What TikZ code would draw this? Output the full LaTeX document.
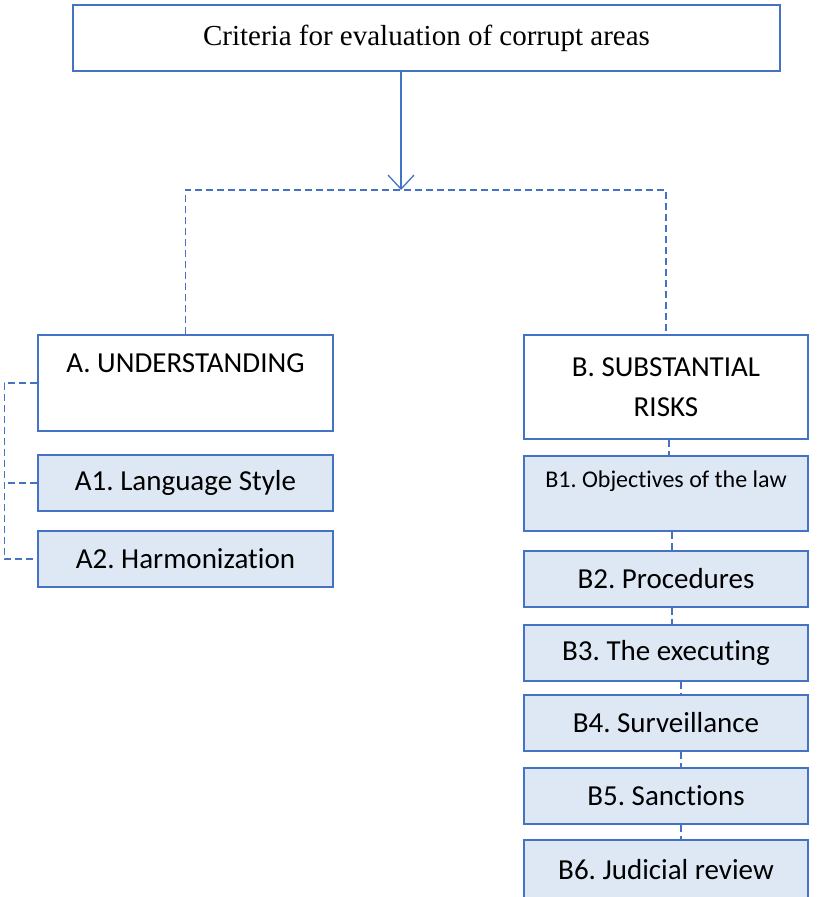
\documentclass[tikz,border=0pt]{standalone}
\usepackage{fontspec}
\setmainfont{Liberation Serif}
\newfontfamily\calibri[Ligatures = NoCommon]{Carlito}
\usepackage{xcolor}
\usepackage{tikz}
\usetikzlibrary{arrows.meta}

\definecolor{lineblue}{HTML}{4472C4}
\definecolor{paleblue}{HTML}{DEE8F5}

\begin{document}
\frenchspacing
\begin{tikzpicture}[x = 1pt, y = -1pt,
    box/.style = {draw = lineblue, line width = 1.3pt, fill = white, inner sep = 0pt,
                  align = center, font = \calibri\fontsize{29}{40}\selectfont},
    subbox/.style = {box, fill = paleblue},
    dashline/.style = {draw = lineblue, line width = 1.4pt, dash pattern = on 7pt off 4pt}]
    \useasboundingbox (0, 0) rectangle (820, 897);
    % top
    \node[box, minimum width = 707pt, minimum height = 66pt,
          font = \fontsize{29}{35}\selectfont] (title) at (426.5, 38)
          {Criteria for evaluation of corrupt areas};
    \coordinate (split) at (401, 190);
    \draw[draw = lineblue, line width = 1.3pt, -{Straight Barb[length = 14pt, width = 26pt]}]
          (title.south -| split) -- (split);
    % left branch
    {
      \node[box, minimum width = 295pt, minimum height = 96pt] (A) at (185.5, 383)
            {A. UNDERSTANDING\\ \mbox{}};
      \node[subbox, minimum width = 295pt, minimum height = 56pt] (A1) at (185.5, 483)
            {A1. Language Style};
      \node[subbox, minimum width = 295pt, minimum height = 56pt] (A2) at (185.5, 559)
            {A2. Harmonization};
    }
    % right branch
    {
      \node[box, minimum width = 284pt, minimum height = 104pt] (B) at (666, 387)
            {B. SUBSTANTIAL\\ RISKS};
      \node[subbox, minimum width = 284pt, minimum height = 75pt,
            font = \calibri\fontsize{24}{29}\selectfont] (B1) at (666, 493.5)
            {B1. Objectives of the law\\ \mbox{}};
      \node[subbox, minimum width = 284pt, minimum height = 56pt] (B2) at (666, 579) {B2. Procedures};
      \node[subbox, minimum width = 284pt, minimum height = 56pt] (B3) at (666, 653) {B3. The executing};
      \node[subbox, minimum width = 284pt, minimum height = 56pt] (B4) at (666, 723) {B4. Surveillance};
      \node[subbox, minimum width = 284pt, minimum height = 56pt] (B5) at (666, 796) {B5. Sanctions};
      \node[subbox, minimum width = 284pt, minimum height = 60pt] (B6) at (666, 870) {B6. Judicial review};
    }
    % connectors
    \draw[dashline] (A.north) |- (split) -| (B.north);
    \draw[dashline] (A.west) -- ++(-33, 0) |- (A2.west);
    \draw[dashline] (A1.west) -- ++(-33, 0);
    \draw[dashline] ([xshift = 3pt]B.south) -- ([xshift = 3pt]B1.north);
    \draw[dashline] ([xshift = 6pt]B1.south) -- ([xshift = 6pt]B2.north);
    \draw[dashline] ([xshift = 6pt]B2.south) -- ([xshift = 6pt]B3.north);
    \draw[dashline] ([xshift = 15pt]B3.south) -- ([xshift = 15pt]B4.north);
    \draw[dashline] ([xshift = 15pt]B4.south) -- ([xshift = 15pt]B5.north);
    \draw[dashline] ([xshift = 15pt]B5.south) -- ([xshift = 15pt]B6.north);
  \end{tikzpicture}
\end{document}
